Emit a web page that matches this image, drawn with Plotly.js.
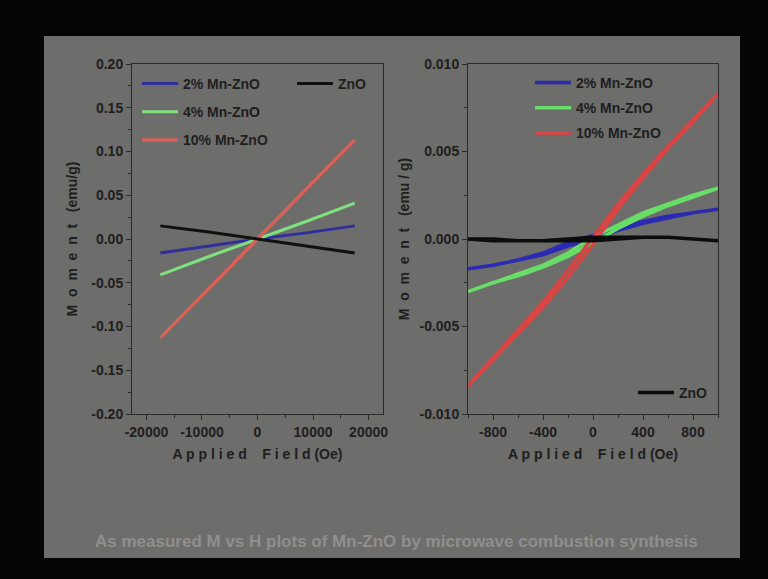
<!DOCTYPE html>
<html>
<head>
<meta charset="utf-8">
<script src="https://cdn.plot.ly/plotly-3.0.1.min.js"></script>
<style>html,body{margin:0;padding:0;background:#050505;}#chart{width:768px;height:579px;}</style>
</head>
<body>
<div id="chart"></div>
<script>
// ---- Left panel: full field range (Oe) ----
const leftField = [-17500, -8750, 0, 8750, 17500];
const left2pct  = [-0.016, -0.008, 0.000, 0.007, 0.015];
const left4pct  = [-0.041, -0.020, 0.000, 0.020, 0.041];
const left10pct = [-0.113, -0.057, 0.000, 0.057, 0.113];
const leftZnO   = [0.015, 0.008, 0.000, -0.008, -0.016];

// ---- Right panel: low-field loops (Oe) ----
const rightFieldUp   = [-1000, -800, -600, -400, -200, 0, 200, 400, 600, 800, 1000];
const rightFieldDown = [1000, 800, 600, 400, 200, 0, -200, -400, -600, -800, -1000];
const r2Up    = [-0.0017, -0.0015, -0.0012, -0.0009, -0.0004, 0.0000, 0.0005, 0.0009, 0.0012, 0.0015, 0.0017];
const r2Down  = [0.0017, 0.0015, 0.0013, 0.0010, 0.0007, 0.0002, -0.0002, -0.0008, -0.0012, -0.0015, -0.0017];
const r4Up    = [-0.0030, -0.0025, -0.0021, -0.0016, -0.0010, -0.0002, 0.0006, 0.0013, 0.0019, 0.0024, 0.0029];
const r4Down  = [0.0029, 0.0025, 0.0020, 0.0015, 0.0008, 0.0001, -0.0008, -0.0015, -0.0020, -0.0025, -0.0030];
const r10Up   = [-0.0084, -0.0069, -0.0054, -0.0039, -0.0022, -0.0003, 0.0017, 0.0035, 0.0052, 0.0067, 0.0083];
const r10Down = [0.0083, 0.0068, 0.0053, 0.0037, 0.0020, 0.0001, -0.0018, -0.0036, -0.0052, -0.0068, -0.0084];
const rZnOUp   = [0.0000, -0.0001, -0.0001, -0.0001, -0.0001, -0.0001, 0.0000, 0.0001, 0.0001, 0.0000, -0.0001];
const rZnODown = [-0.0001, 0.0000, 0.0001, 0.0001, 0.0001, 0.0001, 0.0000, -0.0001, -0.0001, 0.0000, 0.0000];

// ---- Labels ----
const names = ['2% Mn-ZnO', '4% Mn-ZnO', '10% Mn-ZnO', 'ZnO'];
const leftXTickVals = [-20000, -10000, 0, 10000, 20000];
const leftXTickText = ['-20000', '-10000', '0', '10000', '20000'];
const leftYTickVals = [-0.20, -0.15, -0.10, -0.05, 0.00, 0.05, 0.10, 0.15, 0.20];
const leftYTickText = ['-0.20', '-0.15', '-0.10', '-0.05', '0.00', '0.05', '0.10', '0.15', '0.20'];
const rightXTickVals = [-800, -400, 0, 400, 800];
const rightXTickText = ['-800', '-400', '0', '400', '800'];
const rightYTickVals = [-0.010, -0.005, 0.000, 0.005, 0.010];
const rightYTickText = ['-0.010', '-0.005', '0.000', '0.005', '0.010'];
const caption = 'As measured M vs H plots of Mn-ZnO by microwave combustion synthesis';

const W = 768, H = 579;
const px = v => v / W, py = v => 1 - v / H;
const FONT = 'Liberation Sans, Arial, sans-serif';
const ink = '#1e1e1e';

const colL = {b:'#2f2f9c', g:'#7fe07f', r:'#d86258', k:'#101010'};
const colR = {b:'#2a2ab2', g:'#68de68', r:'#d94545', k:'#0c0c0c'};

function tr(x, y, name, color, width, xa, ya, legend, group) {
  return {x, y, name, type:'scatter', mode:'lines', xaxis:xa, yaxis:ya, legend, legendgroup:group,
          line:{color, width}, hoverinfo:'skip'};
}
const loop = (a, b) => a.concat(b);

const data = [
  tr(leftField, left2pct,  names[0], colL.b, 3, 'x', 'y', 'legend', 'a'),
  tr(leftField, left4pct,  names[1], colL.g, 3, 'x', 'y', 'legend', 'b'),
  tr(leftField, left10pct, names[2], colL.r, 3.5, 'x', 'y', 'legend', 'c'),
  tr(leftField, leftZnO,   names[3], colL.k, 3, 'x', 'y', 'legend2', 'd'),
  tr(loop(rightFieldUp, rightFieldDown), loop(r2Up, r2Down),   names[0], colR.b, 3.5, 'x2', 'y2', 'legend3', 'e'),
  tr(loop(rightFieldUp, rightFieldDown), loop(r4Up, r4Down),   names[1], colR.g, 3.5, 'x2', 'y2', 'legend3', 'f'),
  tr(loop(rightFieldUp, rightFieldDown), loop(r10Up, r10Down), names[2], colR.r, 3.5, 'x2', 'y2', 'legend3', 'g'),
  tr(loop(rightFieldUp, rightFieldDown), loop(rZnOUp, rZnODown), names[3], colR.k, 3.5, 'x2', 'y2', 'legend4', 'h')
];

const tickFont = {family:FONT, size:14, color:ink, weight:'bold'};
const titleFont = {family:FONT, size:14, color:ink, weight:'bold'};
function axis(domain, range, tv, tt, minorD, title, anchor, standoff) {
  return {domain, range, anchor, tickvals:tv, ticktext:tt, ticks:'outside', ticklen:5, tickwidth:1,
          tickcolor:'#2a2a2a', showline:true, linecolor:'#2a2a2a', linewidth:1, mirror:true,
          showgrid:false, zeroline:false, tickfont:tickFont, fixedrange:true,
          minor:{ticks:'outside', ticklen:3, dtick:minorD, tickcolor:'#2a2a2a', showgrid:false},
          title:{text:title, font:titleFont, standoff}};
}
const yDom = [py(414), py(64)];
const legBase = {bgcolor:'rgba(0,0,0,0)', borderwidth:0, font:{family:FONT, size:14, color:ink, weight:'bold'},
                 xanchor:'left', yanchor:'top', traceorder:'grouped', itemwidth:36};

const layout = {
  width:W, height:H, margin:{l:0, r:0, t:0, b:0},
  paper_bgcolor:'#050505', plot_bgcolor:'rgba(0,0,0,0)',
  showlegend:true,
  xaxis: axis([px(132), px(383)], [-22600, 22600], leftXTickVals, leftXTickText, 5000,
              'A p p l i e d    F i e l d (Oe)', 'y', 10),
  yaxis: axis(yDom, [-0.20, 0.20], leftYTickVals, leftYTickText, 0.025,
              'M  o  m  e  n  t   (emu/g)', 'x', 10),
  xaxis2: axis([px(468), px(718)], [-1000, 1000], rightXTickVals, rightXTickText, 200,
              'A p p l i e d    F i e l d (Oe)', 'y2', 10),
  yaxis2: axis(yDom, [-0.010, 0.010], rightYTickVals, rightYTickText, 0.0025,
              'M  o  m  e  n  t   (emu / g)', 'x2', 6),
  legend:  Object.assign({}, legBase, {x:px(137), y:py(68), tracegroupgap:7}),
  legend2: Object.assign({}, legBase, {x:px(292), y:py(68)}),
  legend3: Object.assign({}, legBase, {x:px(530), y:py(67), tracegroupgap:4}),
  legend4: Object.assign({}, legBase, {x:px(633), y:py(377)}),
  shapes: [
    {type:'rect', xref:'paper', yref:'paper', x0:px(44), x1:px(740), y0:py(558), y1:py(36),
     fillcolor:'#6d6d6b', line:{width:0}, layer:'below'}
  ],
  annotations: [
    {text:caption, xref:'paper', yref:'paper', x:px(396), y:py(541), showarrow:false,
     xanchor:'center', yanchor:'middle', font:{family:FONT, size:17, color:'#8f8f8b', weight:'bold'}}
  ]
};

Plotly.newPlot('chart', data, layout, {staticPlot:true, displayModeBar:false});
</script>
</body>
</html>
